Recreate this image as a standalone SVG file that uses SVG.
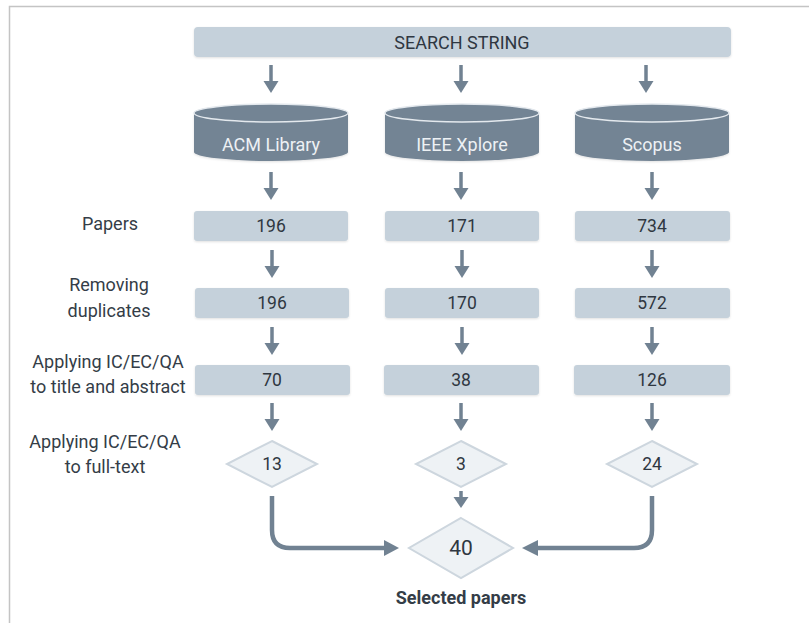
<svg xmlns="http://www.w3.org/2000/svg" width="809" height="623" viewBox="0 0 809 623">
<defs>
<style>
.frame{fill:none;stroke:#c4c4c4;stroke-width:1.5}
.box{fill:#c5d1db}
.t{font-family:Roboto,"Noto Sans",sans-serif;font-size:17.5px;fill:#2f3741;text-anchor:middle;dominant-baseline:central}
.lbl{font-family:Roboto,"Noto Sans",sans-serif;font-size:18px;fill:#343d47;text-anchor:middle}
.cyl{fill:#738494}
.cyltop{fill:#738494;stroke:#e4e9ee;stroke-width:1.5}
.ct{font-family:Roboto,"Noto Sans",sans-serif;font-size:18px;fill:#edf1f4;text-anchor:middle;dominant-baseline:central}
.dia{fill:#eef2f5;stroke:#cdd6de;stroke-width:2}
.shaft{stroke:#718292;stroke-width:3.5;fill:none}
.head{fill:#718292}
.conn{stroke:#718292;stroke-width:4.5;fill:none}
</style>
<filter id="sh" x="-10%" y="-30%" width="120%" height="160%">
<feDropShadow dx="0" dy="1" stdDeviation="1.2" flood-color="#000" flood-opacity="0.12"/>
</filter>
<g id="arr">
<line class="shaft" x1="0" y1="0" x2="0" y2="18"/>
<polygon class="head" points="-7.5,16 7.5,16 0,28"/>
</g>
</defs>
<rect width="809" height="623" fill="#ffffff"/>
<path class="frame" d="M9.5,623 V6.5 H809"/>

<g id="search">
<rect class="box" filter="url(#sh)" x="194" y="27" width="537" height="30" rx="4"/>
<text class="t" x="462" y="42" style="font-size:18px">SEARCH STRING</text>
</g>

<g id="acm">
<path class="cyl" filter="url(#sh)" d="M194,113 V152 A77,9 0 0 0 348,152 V113 Z"/>
<ellipse class="cyltop" cx="271" cy="113" rx="77" ry="9"/>
<text class="ct" x="271" y="144">ACM Library</text>
</g>
<g id="ieee">
<path class="cyl" filter="url(#sh)" d="M385,113 V152 A77,9 0 0 0 539,152 V113 Z"/>
<ellipse class="cyltop" cx="462" cy="113" rx="77" ry="9"/>
<text class="ct" x="462" y="144">IEEE Xplore</text>
</g>
<g id="scopus">
<path class="cyl" filter="url(#sh)" d="M575,113 V152 A77,9 0 0 0 729,152 V113 Z"/>
<ellipse class="cyltop" cx="652" cy="113" rx="77" ry="9"/>
<text class="ct" x="652" y="144">Scopus</text>
</g>

<g id="labels">
<text class="lbl" x="110" y="230">Papers</text>
<text class="lbl" x="109" y="291">Removing</text>
<text class="lbl" x="109" y="317">duplicates</text>
<text class="lbl" x="108" y="368">Applying IC/EC/QA</text>
<text class="lbl" x="108" y="393">to title and abstract</text>
<text class="lbl" x="105" y="448">Applying IC/EC/QA</text>
<text class="lbl" x="105" y="473">to full-text</text>
</g>

<g id="acm-papers"><rect class="box" filter="url(#sh)" x="194" y="211" width="154" height="30" rx="3"/><text class="t" x="271" y="226">196</text></g>
<g id="ieee-papers"><rect class="box" filter="url(#sh)" x="385" y="211" width="154" height="30" rx="3"/><text class="t" x="462" y="226">171</text></g>
<g id="scopus-papers"><rect class="box" filter="url(#sh)" x="575" y="211" width="155" height="30" rx="3"/><text class="t" x="652" y="226">734</text></g>

<g id="acm-dup"><rect class="box" filter="url(#sh)" x="195" y="288" width="154" height="30" rx="3"/><text class="t" x="272" y="303">196</text></g>
<g id="ieee-dup"><rect class="box" filter="url(#sh)" x="385" y="288" width="154" height="30" rx="3"/><text class="t" x="462" y="303">170</text></g>
<g id="scopus-dup"><rect class="box" filter="url(#sh)" x="575" y="288" width="155" height="30" rx="3"/><text class="t" x="652" y="303">572</text></g>

<g id="acm-title"><rect class="box" filter="url(#sh)" x="195" y="365" width="155" height="30" rx="3"/><text class="t" x="272" y="380">70</text></g>
<g id="ieee-title"><rect class="box" filter="url(#sh)" x="384" y="365" width="155" height="30" rx="3"/><text class="t" x="461" y="380">38</text></g>
<g id="scopus-title"><rect class="box" filter="url(#sh)" x="574" y="365" width="156" height="30" rx="3"/><text class="t" x="652" y="380">126</text></g>

<g id="acm-full"><polygon class="dia" points="272,441 317,464 272,487 227,464"/><text class="t" x="272" y="464">13</text></g>
<g id="ieee-full"><polygon class="dia" points="461,441 506,464 461,487 416,464"/><text class="t" x="461" y="464">3</text></g>
<g id="scopus-full"><polygon class="dia" points="652,441 697,464 652,487 607,464"/><text class="t" x="652" y="464">24</text></g>

<g id="selected">
<polygon class="dia" points="461,518 513,548 461,578 409,548"/>
<text class="t" x="461" y="548" style="font-size:21px">40</text>
<text class="lbl" x="461" y="604" style="font-weight:bold;font-size:18px">Selected papers</text>
</g>

<g id="connectors">
<use href="#arr" x="271" y="65"/>
<use href="#arr" x="461" y="65"/>
<use href="#arr" x="646" y="65"/>
<use href="#arr" x="271" y="172"/>
<use href="#arr" x="461" y="172"/>
<use href="#arr" x="652" y="172"/>
<use href="#arr" x="272" y="250"/>
<use href="#arr" x="462" y="250"/>
<use href="#arr" x="652" y="250"/>
<use href="#arr" x="272" y="327"/>
<use href="#arr" x="462" y="327"/>
<use href="#arr" x="652" y="327"/>
<use href="#arr" x="272" y="403"/>
<use href="#arr" x="461" y="403"/>
<use href="#arr" x="652" y="403"/>
<line class="shaft" x1="461" y1="491" x2="461" y2="499"/>
<polygon class="head" points="453.5,497 468.5,497 461,508"/>
<path class="conn" d="M272,496 V530 Q272,548 290,548 H386"/>
<polygon class="head" points="384,540 399,548 384,556"/>
<path class="conn" d="M652,496 V530 Q652,548 634,548 H536"/>
<polygon class="head" points="538,540 522,548 538,556"/>
</g>
</svg>
